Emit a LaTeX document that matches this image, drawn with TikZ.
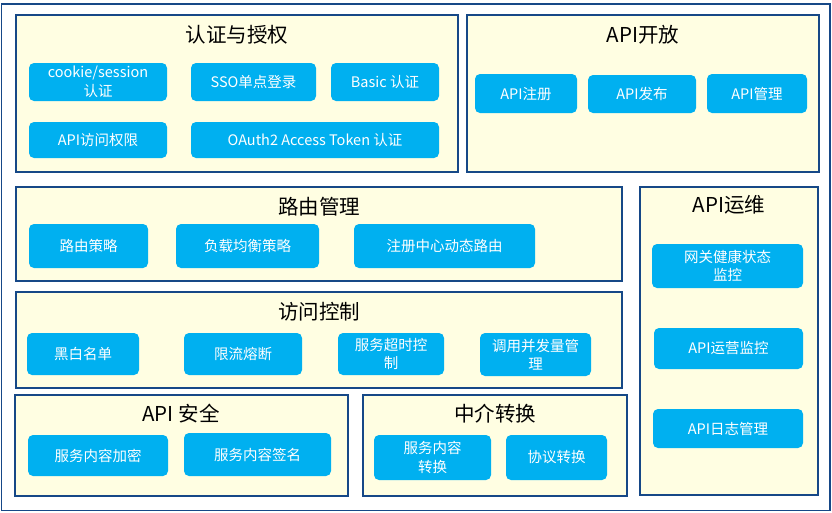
\documentclass[tikz,border=0pt]{standalone}
\usepackage{fontspec}
\setmainfont{Noto Sans CJK SC}
\usetikzlibrary{fit}
\definecolor{navy}{RGB}{22,72,135}
\definecolor{cream}{RGB}{255,254,226}
\definecolor{skyb}{RGB}{0,176,240}
\newcommand\bxnode[4]{%
  \node[bx, fit={#2 #3}] (#1) {};
  \node[bxt] (#1-t) at (#1.center) {#4};}
\begin{document}
\begin{tikzpicture}[x=1pt,y=-1pt,
  frame/.style={draw=navy, line width=1.6pt, fill=white, inner sep=0pt},
  grp/.style={draw=navy, line width=2pt, fill=cream, inner sep=0pt},
  ttl/.style={font=\fontsize{20.5}{24}\selectfont, text=black, inner sep=0pt},
  bx/.style={fill=skyb, rounded corners=5pt, inner sep=0pt},
  bxt/.style={text=white, inner sep=0pt, font=\fontsize{14.5}{18.5}\selectfont, align=center}]
\useasboundingbox (0,0) rectangle (832,512);
\node[frame, fit={(1.5,4)(830,510.5)}] (outer) {};

% 认证与授权
\node[grp, fit={(16,15)(458,172)}] (g1) {};
\node[ttl] (t1) at (237,35) {认证与授权};
\bxnode{b11}{(29,63)}{(167,101)}{cookie/session\\认证}
\bxnode{b12}{(191,63)}{(316,101)}{SSO单点登录}
\bxnode{b13}{(331,63)}{(439,101)}{Basic 认证}
\bxnode{b14}{(29,122)}{(167,158)}{API访问权限}
\bxnode{b15}{(191,122)}{(439,158)}{OAuth2 Access Token 认证}

% API开放
\node[grp, fit={(467,15)(819,172)}] (g2) {};
\node[ttl] (t2) at (643,35) {API开放};
\bxnode{b21}{(475,74)}{(577,113)}{API注册}
\bxnode{b22}{(588,75)}{(696,113)}{API发布}
\bxnode{b23}{(707,74)}{(807,113)}{API管理}

% API运维
\node[grp, fit={(640,187)(818,495)}] (g3) {};
\node[ttl] (t3) at (729,205) {API运维};
\bxnode{b31}{(652,244)}{(803,288)}{网关健康状态\\监控}
\bxnode{b32}{(654,328)}{(803,369)}{API运营监控}
\bxnode{b33}{(653,409)}{(803,448)}{API日志管理}

% 路由管理
\node[grp, fit={(16,187)(622,281)}] (g4) {};
\node[ttl] (t4) at (319,207) {路由管理};
\bxnode{b41}{(29,224)}{(148,268)}{路由策略}
\bxnode{b42}{(176,224)}{(319,268)}{负载均衡策略}
\bxnode{b43}{(354,224)}{(535,268)}{注册中心动态路由}

% 访问控制
\node[grp, fit={(16,292)(622,388)}] (g5) {};
\node[ttl] (t5) at (319,312) {访问控制};
\bxnode{b51}{(27,333)}{(139,375)}{黑白名单}
\bxnode{b52}{(184,333)}{(302,375)}{限流熔断}
\bxnode{b53}{(338,333)}{(444,375)}{服务超时控\\制}
\bxnode{b54}{(480,333)}{(591,376)}{调用并发量管\\理}

% API 安全
\node[grp, fit={(15,395)(348,496)}] (g6) {};
\node[ttl] (t6) at (181,414) {API 安全};
\bxnode{b61}{(28,435)}{(168,476)}{服务内容加密}
\bxnode{b62}{(184,433)}{(331,476)}{服务内容签名}

% 中介转换
\node[grp, fit={(363,395)(627,496)}] (g7) {};
\node[ttl] (t7) at (495,414) {中介转换};
\bxnode{b71}{(374,435)}{(491,480)}{服务内容\\转换}
\bxnode{b72}{(506,435)}{(607,480)}{协议转换}
\end{tikzpicture}
\end{document}
